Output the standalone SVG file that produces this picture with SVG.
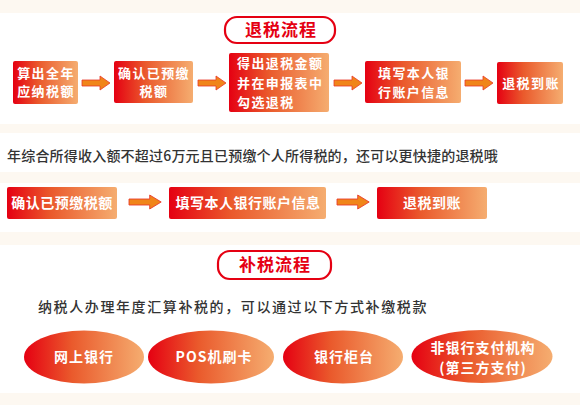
<svg xmlns="http://www.w3.org/2000/svg" width="580" height="405" viewBox="0 0 580 405">
<defs>
<linearGradient id="g" x1="0" y1="0" x2="1" y2="0">
<stop offset="0" stop-color="#e50012"/>
<stop offset="0.4" stop-color="#ea5a2c"/>
<stop offset="1" stop-color="#f5ad70"/>
</linearGradient>
<path id="arr" d="M0,-3 L18,-3 L18,-7 L28,0 L18,7 L18,3 L0,3 Z"/>
</defs>
<style>
.bx{fill:url(#g);}
.bt{font-family:"Noto Sans CJK SC","Liberation Sans",sans-serif;font-weight:bold;fill:#fff;font-size:13px;letter-spacing:1.4px;text-anchor:middle;}
.bt2{font-family:"Noto Sans CJK SC","Liberation Sans",sans-serif;font-weight:bold;fill:#fff;font-size:14px;letter-spacing:0.5px;text-anchor:middle;}
.et{font-family:"Noto Sans CJK SC","Liberation Sans",sans-serif;font-weight:bold;fill:#fff;font-size:14px;letter-spacing:1px;text-anchor:middle;}
.pill{fill:#fff;stroke:#e50012;stroke-width:2.2;}
.pt{font-family:"Noto Sans CJK SC","Liberation Sans",sans-serif;font-weight:bold;fill:#e50012;font-size:17px;letter-spacing:1px;text-anchor:middle;}
.tx{font-family:"Noto Sans CJK SC","Liberation Sans",sans-serif;fill:#333;font-size:14px;font-weight:500;}
.ar{fill:#f08519;stroke:#e8382a;stroke-width:0.8;}
</style>
<rect x="0" y="0" width="580" height="405" fill="#fdf8f1"/>
<rect x="0" y="13" width="580" height="111" fill="#fff"/>
<rect x="0" y="133" width="580" height="39" fill="#fff"/>
<rect x="0" y="183" width="580" height="49" fill="#fff"/>
<rect x="0" y="245" width="580" height="148" fill="#fff"/>

<g id="title1">
<rect class="pill" x="225" y="17" width="110" height="26" rx="12"/>
<text class="pt" x="281" y="36">退税流程</text>
</g>

<g id="n1"><rect class="bx" x="13" y="61" width="65" height="43" rx="2"/>
<text class="bt" x="46" y="78">算出全年</text><text class="bt" x="46" y="96">应纳税额</text></g>
<g id="n2"><rect class="bx" x="114" y="61" width="79" height="42" rx="2"/>
<text class="bt" x="154" y="78">确认已预缴</text><text class="bt" x="154" y="96">税额</text></g>
<g id="n3"><rect class="bx" x="229" y="53" width="100" height="59" rx="2"/>
<text class="bt" x="237" y="68" style="text-anchor:start">得出退税金额</text>
<text class="bt" x="237" y="88" style="text-anchor:start">并在申报表中</text>
<text class="bt" x="237" y="107" style="text-anchor:start">勾选退税</text></g>
<g id="n4"><rect class="bx" x="365" y="61" width="96" height="42" rx="2"/>
<text class="bt" x="414" y="78">填写本人银</text><text class="bt" x="414" y="97">行账户信息</text></g>
<g id="n5"><rect class="bx" x="497" y="62" width="66" height="42" rx="2"/>
<text class="bt" x="531" y="88">退税到账</text></g>

<g id="line2"><text class="tx" x="7" y="161" style="letter-spacing:0.2px">年综合所得收入额不超过6万元且已预缴个人所得税的，还可以更快捷的退税哦</text></g>

<g id="m1"><rect class="bx" x="7" y="187" width="110" height="32" rx="2"/>
<text class="bt2" x="62" y="208">确认已预缴税额</text></g>
<g id="m2"><rect class="bx" x="169" y="187" width="157" height="32" rx="2"/>
<text class="bt2" x="248" y="208">填写本人银行账户信息</text></g>
<g id="m3"><rect class="bx" x="377" y="187" width="110" height="32" rx="2"/>
<text class="bt2" x="432" y="208">退税到账</text></g>

<g id="title2">
<rect class="pill" x="218" y="251" width="113" height="28" rx="12"/>
<text class="pt" x="275" y="271">补税流程</text>
</g>
<g id="line4"><text class="tx" x="38" y="312" style="letter-spacing:1.6px">纳税人办理年度汇算补税的，可以通过以下方式补缴税款</text></g>

<g id="e1"><ellipse class="bx" cx="84" cy="357" rx="60" ry="26.5"/>
<text class="et" x="84" y="362">网上银行</text></g>
<g id="e2"><ellipse class="bx" cx="211" cy="357" rx="63" ry="26.5"/>
<text class="et" x="214" y="362">POS机刷卡</text></g>
<g id="e3"><ellipse class="bx" cx="343" cy="357" rx="60" ry="26.5"/>
<text class="et" x="344" y="362">银行柜台</text></g>
<g id="e4"><ellipse class="bx" cx="482" cy="356.5" rx="70.5" ry="26.5"/>
<text class="et" x="483" y="353">非银行支付机构</text>
<text class="et" x="483" y="373">(第三方支付)</text></g>

<g id="connectors">
<use href="#arr" class="ar" x="82" y="83"/>
<use href="#arr" class="ar" x="198" y="83"/>
<use href="#arr" class="ar" x="334" y="83"/>
<use href="#arr" class="ar" x="465" y="83"/>
<use href="#arr" class="ar" x="129" y="202" transform="translate(129 202) scale(1.15 1) translate(-129 -202)"/>
<use href="#arr" class="ar" x="337" y="202" transform="translate(337 202) scale(1.15 1) translate(-337 -202)"/>
</g>
</svg>
